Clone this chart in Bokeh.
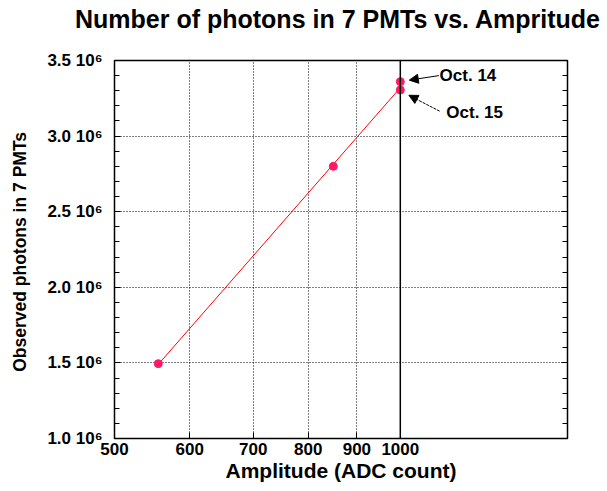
from bokeh.plotting import figure
from bokeh.models import (FixedTicker, LinearAxis, Span, Arrow, NormalHead, Label, Div)
from bokeh.layouts import column
from bokeh.embed import file_html
from bokeh.resources import INLINE

# data
amp = [556, 850, 1000, 1000]
photons = [1.495e6, 2.80e6, 3.36e6, 3.305e6]
fit_x = [556, 1000]
fit_y = [1.49e6, 3.32e6]
x_ticks = [500, 600, 700, 800, 900, 1000]
y_ticks = [1.0e6, 1.5e6, 2.0e6, 2.5e6, 3.0e6, 3.5e6]
y_tick_labels = ["1.0 10\u2076", "1.5 10\u2076", "2.0 10\u2076", "2.5 10\u2076", "3.0 10\u2076", "3.5 10\u2076"]
notes = ["Oct. 14", "Oct. 15"]
title_text = "Number of photons in 7 PMTs vs. Ampritude"

FONT = "Liberation Sans"

title = Div(text=title_text, width=607, height=38, margin=0,
            styles={"font-family": FONT, "font-size": "25px", "font-weight": "bold",
                    "color": "black", "line-height": "38px", "padding-left": "75px",
                    "white-space": "nowrap", "background": "white"})

p = figure(width=607, height=453, x_axis_type="log", x_range=(500, 1500), y_range=(1.0e6, 3.5e6),
           output_backend="svg", toolbar_location=None,
           min_border_left=114, min_border_right=40, min_border_top=22, min_border_bottom=53)
p.outline_line_color = "black"
p.outline_line_width = 1.5
p.background_fill_color = "white"
p.border_fill_color = "white"

xa = p.xaxis[0]
xa.ticker = FixedTicker(ticks=x_ticks, minor_ticks=[])
xa.major_label_overrides = {t: str(t) for t in x_ticks}
xa.axis_label = "Amplitude (ADC count)"
ya = p.yaxis[0]
ya.ticker = FixedTicker(ticks=y_ticks, minor_ticks=[y_ticks[0] + i * 1e5 for i in range(26)])
ya.major_label_overrides = dict(zip(y_ticks, y_tick_labels))
ya.axis_label = "Observed photons in  7 PMTs"

for ax in (xa, ya):
    ax.axis_line_color = None
    ax.major_tick_in = 6
    ax.major_tick_out = 0
    ax.minor_tick_in = 5
    ax.minor_tick_out = 0
    ax.major_tick_line_color = "black"
    ax.minor_tick_line_color = "black"
    ax.major_label_text_font = FONT
    ax.major_label_text_font_style = "bold"
    ax.major_label_text_color = "black"
    ax.major_label_text_font_size = "17px"
    ax.axis_label_text_font = FONT
    ax.axis_label_text_font_style = "bold"
    ax.axis_label_text_color = "black"
xa.axis_label_text_font_size = "21px"
xa.axis_label_standoff = 1
xa.major_label_standoff = 4
ya.axis_label_text_font_size = "17.5px"
ya.axis_label_standoff = 14
ya.major_label_standoff = 12

ra = LinearAxis(ticker=ya.ticker, axis_line_color=None, major_tick_in=6, major_tick_out=0,
                minor_tick_in=5, minor_tick_out=0,
                major_label_overrides={t: "" for t in y_ticks})
p.add_layout(ra, "right")

p.xgrid.ticker = FixedTicker(ticks=x_ticks[1:-1])
p.ygrid.ticker = FixedTicker(ticks=y_ticks[1:-1])
for g in (p.xgrid[0], p.ygrid[0]):
    g.grid_line_color = "black"
    g.grid_line_dash = "1 2"
    g.grid_line_width = 1

p.add_layout(Span(location=x_ticks[-1], dimension="height", line_color="black", line_width=1.5))

p.line(fit_x, fit_y, line_color="red", line_width=1)
p.scatter(amp, photons, size=8, fill_color="#ff1a66", line_color="#ff1a66")

p.add_layout(Arrow(end=NormalHead(size=9, fill_color="black", line_color="black"),
                   x_start=1098, y_start=3.40e6, x_end=1022, y_end=3.37e6, line_color="black"))
p.add_layout(Arrow(end=NormalHead(size=9, fill_color="black", line_color="black"),
                   x_start=1100, y_start=3.165e6, x_end=1021, y_end=3.27e6, line_color="black",
                   line_dash="3 1"))
p.add_layout(Label(x=1100, y=3.40e6, text=notes[0], text_font=FONT, text_font_style="bold",
                   text_font_size="17px", text_baseline="middle", text_color="black"))
p.add_layout(Label(x=1118, y=3.155e6, text=notes[1], text_font=FONT, text_font_style="bold",
                   text_font_size="17px", text_baseline="middle", text_color="black"))

layout = column(title, p, spacing=0)
open("out.html", "w").write(file_html(layout, INLINE))
